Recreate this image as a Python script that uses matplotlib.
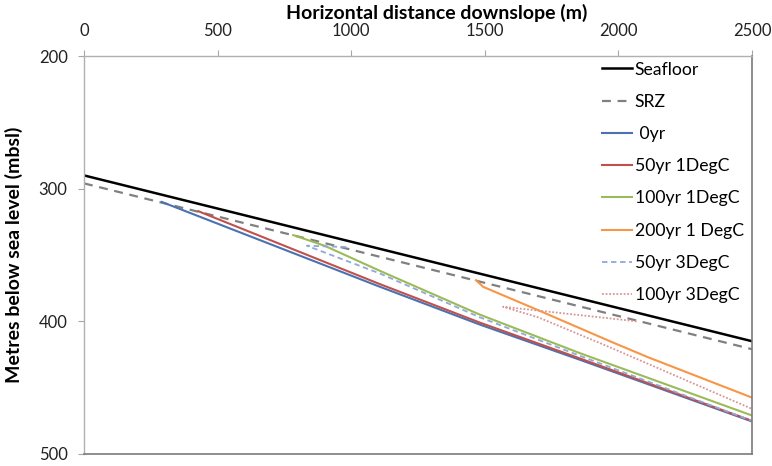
import matplotlib
matplotlib.use('Agg')
import matplotlib.pyplot as plt

# distance downslope (m) and depth (mbsl)
seafloor_x = [0, 2500]
seafloor_y = [290, 415]

srz_x = [0, 2500]
srz_y = [296, 421]

yr0_x = [291, 1108, 1482, 1856, 2500]
yr0_y = [310, 374, 402.5, 429, 475.5]

yr50_1_x = [428, 1108, 1482, 1856, 2500]
yr50_1_y = [317, 372, 401, 428, 475]

yr100_1_x = [783, 900, 1108, 1482, 1856, 2500]
yr100_1_y = [335, 343, 362, 395, 424, 471]

yr200_1_x = [1467, 1494, 1681, 1980, 2110, 2500]
yr200_1_y = [369, 374, 390, 416, 427, 457.5]

yr50_3_x = [981, 834, 1108, 1482, 1856, 2500]
yr50_3_y = [344, 343, 364, 397, 426, 475]

yr100_3_x = [2068, 1568, 1700, 1950, 2500]
yr100_3_y = [400, 389, 397, 418, 466]

plt.rcParams['font.family'] = ['Lato', 'DejaVu Sans']

fig = plt.figure(figsize=(7.72, 4.66), dpi=100)
ax = fig.add_axes([0.1088, 0.0258, 0.8653, 0.854])

ax.plot(seafloor_x, seafloor_y, color='black', lw=1.8, label='Seafloor')
ax.plot(srz_x, srz_y, color='#808080', lw=1.6, dashes=(4, 3), label='SRZ')
ax.plot(yr0_x, yr0_y, color='#4a72b0', lw=1.5, label=' 0yr')
ax.plot(yr50_1_x, yr50_1_y, color='#c0504d', lw=1.5, label='50yr 1DegC')
ax.plot(yr100_1_x, yr100_1_y, color='#9bbb59', lw=1.5, label='100yr 1DegC')
ax.plot(yr200_1_x, yr200_1_y, color='#f79646', lw=1.5, label='200yr 1 DegC')
ax.plot(yr50_3_x, yr50_3_y, color='#8fa9d8', lw=1.3, dashes=(3, 2), label='50yr 3DegC')
ax.plot(yr100_3_x, yr100_3_y, color='#d99694', lw=1.3, dashes=(1, 1), label='100yr 3DegC')

ax.set_xlim(0, 2500)
ax.set_ylim(500, 200)
ax.set_xticks([0, 500, 1000, 1500, 2000, 2500])
ax.set_yticks([200, 300, 400, 500])

ax.xaxis.tick_top()
ax.xaxis.set_label_position('top')
ax.tick_params(axis='both', direction='out', length=4.3, width=0.8, color='#a6a6a6',
               labelsize=12, labelcolor='#222222')
ax.tick_params(axis='x', pad=8)
ax.tick_params(axis='y', pad=7.5)

for side in ['left', 'top']:
    ax.spines[side].set_color('#b0b0b0')
    ax.spines[side].set_linewidth(1.0)
for side in ['right', 'bottom']:
    ax.spines[side].set_color('#7a7a7a')
    ax.spines[side].set_linewidth(1.2)

ax.set_xlabel('Horizontal distance downslope (m)', fontsize=14, fontweight='bold')
ax.xaxis.label.set_va('center')
ax.xaxis.set_label_coords(0.528, 1.0 + 43 / 398)
ax.set_ylabel('Metres below sea level (mbsl)', fontsize=14, fontweight='bold')
ax.yaxis.label.set_va('center')
ax.yaxis.set_label_coords(-70 / 668, 0.5)

ax.legend(loc='upper left', bbox_to_anchor=(0.775, 0.986), frameon=False, fontsize=12.7,
          borderpad=0, borderaxespad=0, handlelength=1.7, handletextpad=0.17, labelspacing=0.92)

plt.savefig('out.png', dpi=100)
plt.close()
